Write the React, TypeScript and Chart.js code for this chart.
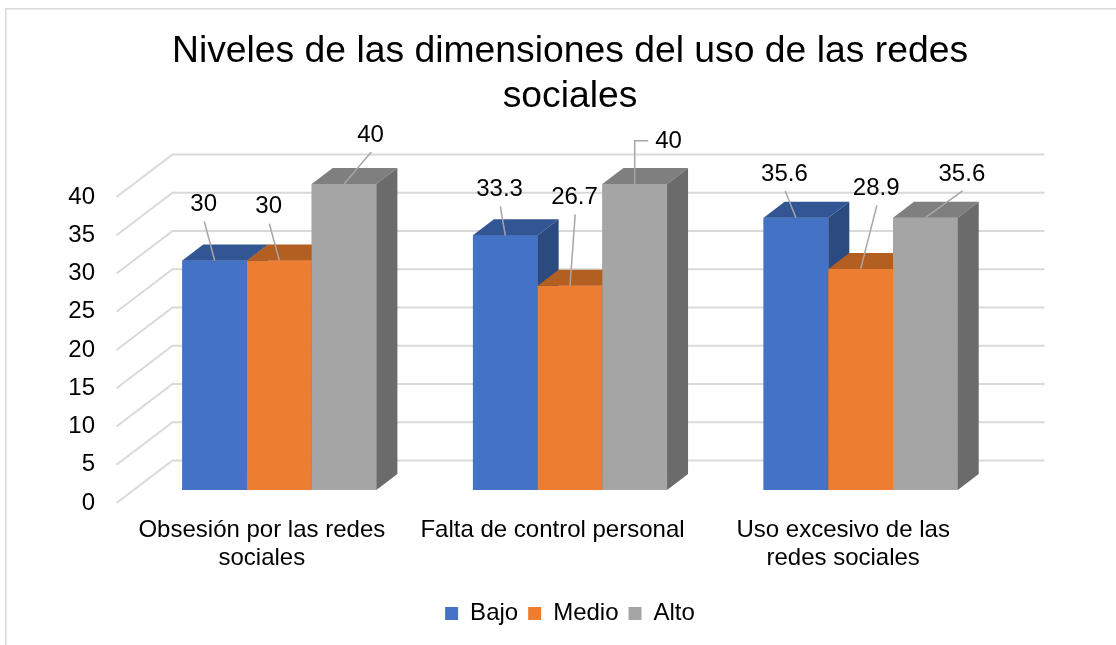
import React, { useEffect, useRef } from 'react';
import { Chart, registerables } from 'chart.js';

Chart.register(...registerables);

// ---------- data ----------
const titleLines = ['Niveles de las dimensiones del uso de las redes', 'sociales'];
const categories = [['Obsesión por las redes', 'sociales'], 'Falta de control personal', ['Uso excesivo de las', 'redes sociales']];
const seriesNames = ['Bajo', 'Medio', 'Alto'];
const bajo = [30, 33.3, 35.6];
const medio = [30, 26.7, 28.9];
const alto = [40, 40, 35.6];
const yMin = 0;
const yMax = 40;
const yStep = 5;

// ---------- styles ----------
const FONT = '"Liberation Sans", Arial, Helvetica, sans-serif';
const frontColors = ['#4472C4', '#ED7D31', '#A5A5A5'];
const topColors = ['#325693', '#B45F22', '#7F7F7F'];
const sideColors = ['#2B4A80', '#9E531D', '#6B6B6B'];

// depth offsets (pixels) relative to the bar front plane
const FRONT_WALL = { x: -17.5, y: 13 };
const BACK_WALL = { x: 38.5, y: -29.5 };
const BAR_DEPTH = { x: 21, y: -16 };

// label placement per series / category: [dx, dy, elbow]
const labelLayout: [number, number, boolean][][] = [
  [[-11, -56, false], [-5.7, -46, false], [-11.5, -43.7, false]],
  [[-10.7, -53.7, false], [4.5, -88.4, false], [15.5, -80.6, false]],
  [[26.5, -49, false], [33.8, -42.3, true], [36.5, -43.7, false]],
];

const series = [bajo, medio, alto];

const fmt = (v: number) => (Number.isInteger(v) ? String(v) : v.toFixed(1));

const excel3d = {
  id: 'excel3d',
  beforeDraw(chart: any) {
    const { ctx } = chart;
    ctx.save();
    ctx.strokeStyle = '#d9d9d9';
    ctx.lineWidth = 1.5;
    ctx.strokeRect(5.8, 8.8, 1300, 900);
    ctx.restore();
  },
  beforeDatasetsDraw(chart: any) {
    const { ctx, chartArea } = chart;
    const y = chart.scales.y;
    ctx.save();
    ctx.strokeStyle = '#d9d9d9';
    ctx.lineWidth = 2;
    y.ticks.forEach((t: any) => {
      const py = y.getPixelForValue(t.value);
      ctx.beginPath();
      ctx.moveTo(chartArea.left + FRONT_WALL.x, py + FRONT_WALL.y);
      ctx.lineTo(chartArea.left + BACK_WALL.x, py + BACK_WALL.y);
      ctx.lineTo(chartArea.right + BACK_WALL.x, py + BACK_WALL.y);
      ctx.stroke();
    });
    ctx.restore();
  },
  afterDatasetsDraw(chart: any) {
    const { ctx } = chart;
    const nDs = chart.data.datasets.length;
    const nCat = chart.data.labels.length;
    const poly = (pts: number[][], color: string) => {
      ctx.beginPath();
      ctx.moveTo(pts[0][0], pts[0][1]);
      for (let i = 1; i < pts.length; i++) ctx.lineTo(pts[i][0], pts[i][1]);
      ctx.closePath();
      ctx.fillStyle = color;
      ctx.fill();
    };
    ctx.save();
    for (let c = 0; c < nCat; c++) {
      for (let d = 0; d < nDs; d++) {
        const el = chart.getDatasetMeta(d).data[c];
        const { x, y, base, width } = el.getProps(['x', 'y', 'base', 'width'], true);
        const l = x - width / 2;
        const r = x + width / 2;
        poly([[l, y], [r, y], [r, base], [l, base]], frontColors[d]);
        poly([[l, y], [r, y], [r + BAR_DEPTH.x, y + BAR_DEPTH.y], [l + BAR_DEPTH.x, y + BAR_DEPTH.y]], topColors[d]);
        poly([[r, y], [r + BAR_DEPTH.x, y + BAR_DEPTH.y], [r + BAR_DEPTH.x, base + BAR_DEPTH.y], [r, base]], sideColors[d]);
      }
    }
    // data labels with leader lines
    ctx.font = `24px ${FONT}`;
    ctx.textAlign = 'center';
    ctx.textBaseline = 'middle';
    for (let d = 0; d < nDs; d++) {
      const meta = chart.getDatasetMeta(d);
      for (let c = 0; c < nCat; c++) {
        const el = meta.data[c];
        const { x, y } = el.getProps(['x', 'y'], true);
        const [dx, dy, elbow] = labelLayout[d][c];
        const tx = x + dx;
        const ty = y + dy;
        const text = fmt(chart.data.datasets[d].data[c]);
        const tw = ctx.measureText(text).width;
        ctx.strokeStyle = '#a6a6a6';
        ctx.lineWidth = 1.5;
        ctx.beginPath();
        if (elbow) {
          ctx.moveTo(tx - tw / 2 - 7, ty - 1);
          ctx.lineTo(x, ty - 1);
          ctx.lineTo(x, y);
        } else {
          ctx.moveTo(tx + 0.7, ty + 17);
          ctx.lineTo(x, y);
        }
        ctx.stroke();
        ctx.fillStyle = '#000';
        ctx.fillText(text, tx, ty);
      }
    }
    ctx.restore();
  },
};

export default function App() {
  const ref = useRef<HTMLCanvasElement>(null);
  useEffect(() => {
    if (!ref.current) return;
    const chart = new Chart(ref.current, {
      type: 'bar',
      data: {
        labels: categories as any,
        datasets: seriesNames.map((name, i) => ({
          label: name,
          data: series[i],
          backgroundColor: frontColors[i],
          borderWidth: 0,
          categoryPercentage: 0.6678,
          barPercentage: 1,
        })),
      },
      options: {
        responsive: false,
        animation: false,
        layout: { padding: { left: 60, right: 110, top: 0, bottom: 9.6 } },
        plugins: {
          title: {
            display: true,
            fullSize: false,
            text: titleLines,
            color: '#000',
            font: { family: FONT, size: 37.3, weight: 'normal', lineHeight: 1.2 },
            padding: { top: 29.1, bottom: 65.4 },
          },
          legend: {
            position: 'bottom',
            fullSize: false,
            labels: {
              color: '#000',
              font: { family: FONT, size: 24 },
              boxWidth: 13,
              boxHeight: 13,
              padding: 10,
            },
          },
          tooltip: { enabled: false },
        },
        scales: {
          x: {
            grid: { display: false, drawTicks: false },
            border: { display: false },
            ticks: {
              color: '#000',
              font: { family: FONT, size: 24, lineHeight: 1.15 },
              padding: 27,
              labelOffset: FRONT_WALL.x,
              maxRotation: 0,
              minRotation: 0,
              autoSkip: false,
            },
            afterFit: (s: any) => {
              s.height = 101.4;
            },
          },
          y: {
            min: yMin,
            max: yMax,
            grid: { display: false, drawTicks: false },
            border: { display: false },
            ticks: {
              stepSize: yStep,
              color: '#000',
              font: { family: FONT, size: 24 },
              padding: 39,
              labelOffset: FRONT_WALL.y,
            },
            afterFit: (s: any) => {
              s.width = 74;
            },
          },
        },
      } as any,
      plugins: [excel3d],
    });
    return () => chart.destroy();
  }, []);
  return (
    <div style={{ position: 'absolute', left: 0, top: 0, width: 1116, height: 645, background: '#fff' }}>
      <canvas ref={ref} width={1116} height={645} style={{ display: 'block' }} />
    </div>
  );
}
